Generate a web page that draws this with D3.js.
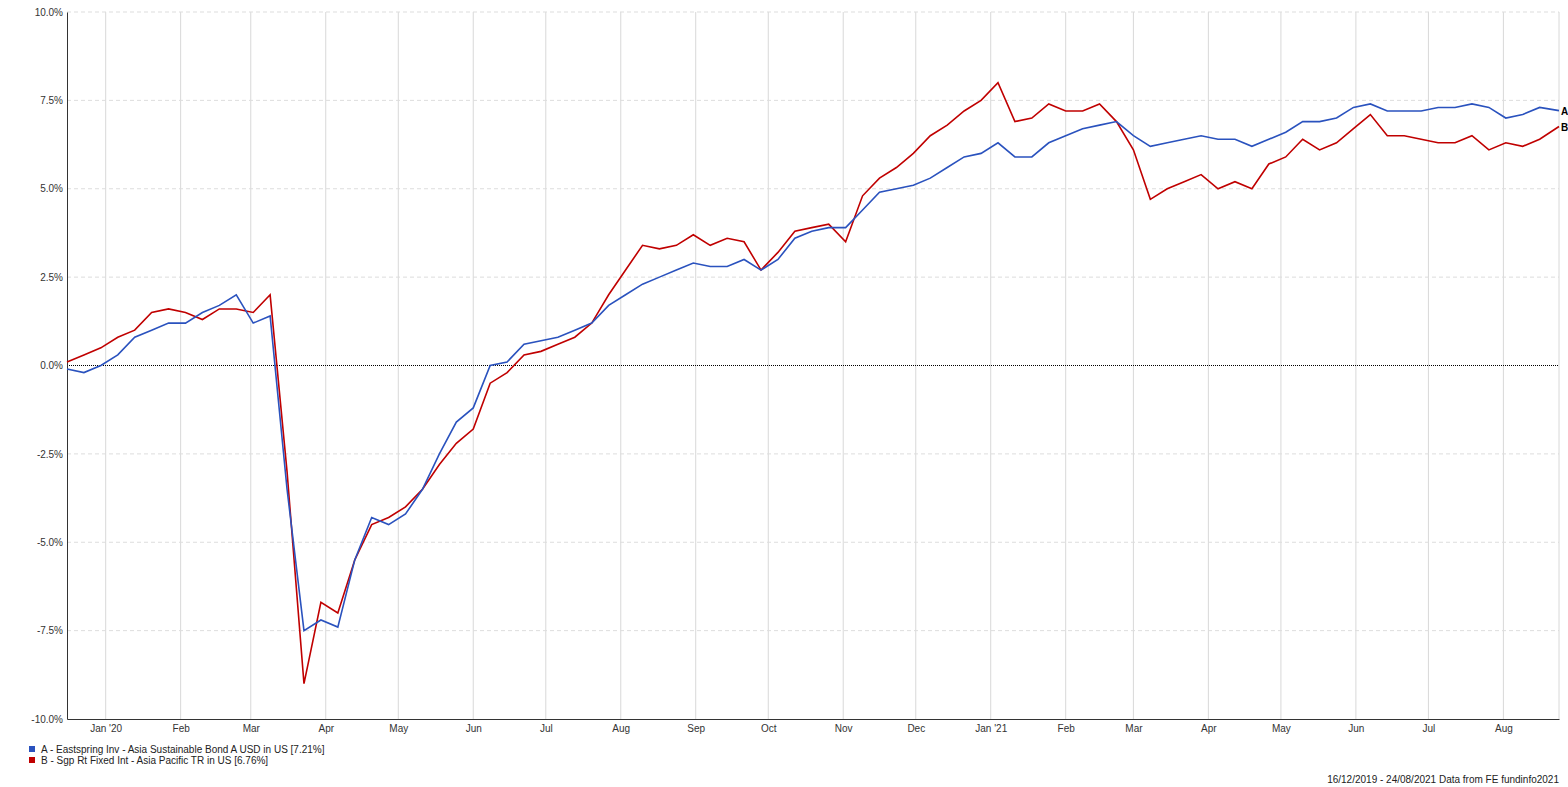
<!DOCTYPE html>
<html><head><meta charset="utf-8">
<script src="https://cdn.jsdelivr.net/npm/d3@7/dist/d3.min.js"></script>
<style>body{margin:0;background:#fff}text{font-family:"Liberation Sans",Arial,sans-serif}</style>
</head><body><svg id="c" width="1568" height="787"></svg>
<script>
const startDate = "2019-12-16";
const endDate = "2021-08-24";
const seriesA = [-0.1,-0.2,0.0,0.3,0.8,1.0,1.2,1.2,1.5,1.7,2.0,1.2,1.4,-3.5,-7.5,-7.2,-7.4,-5.5,-4.3,-4.5,-4.2,-3.5,-2.5,-1.6,-1.2,0.0,0.1,0.6,0.7,0.8,1.0,1.2,1.7,2.0,2.3,2.5,2.7,2.9,2.8,2.8,3.0,2.7,3.0,3.6,3.8,3.9,3.9,4.4,4.9,5.0,5.1,5.3,5.6,5.9,6.0,6.3,5.9,5.9,6.3,6.5,6.7,6.8,6.9,6.5,6.2,6.3,6.4,6.5,6.4,6.4,6.2,6.4,6.6,6.9,6.9,7.0,7.3,7.4,7.2,7.2,7.2,7.3,7.3,7.4,7.3,7.0,7.1,7.3,7.21];
const seriesB = [0.1,0.3,0.5,0.8,1.0,1.5,1.6,1.5,1.3,1.6,1.6,1.5,2.0,-3.0,-9.0,-6.7,-7.0,-5.5,-4.5,-4.3,-4.0,-3.5,-2.8,-2.2,-1.8,-0.5,-0.2,0.3,0.4,0.6,0.8,1.2,2.0,2.7,3.4,3.3,3.4,3.7,3.4,3.6,3.5,2.7,3.2,3.8,3.9,4.0,3.5,4.8,5.3,5.6,6.0,6.5,6.8,7.2,7.5,8.0,6.9,7.0,7.4,7.2,7.2,7.4,6.9,6.1,4.7,5.0,5.2,5.4,5.0,5.2,5.0,5.7,5.9,6.4,6.1,6.3,6.7,7.1,6.5,6.5,6.4,6.3,6.3,6.5,6.1,6.3,6.2,6.4,6.76];
const yTicks = [-10,-7.5,-5,-2.5,0,2.5,5,7.5,10];
const legendLabels = ["A - Eastspring Inv - Asia Sustainable Bond A USD in US [7.21%]","B - Sgp Rt Fixed Int - Asia Pacific TR in US [6.76%]"];
const colors = ["#2a52be","#c00000"];

const svg = d3.select("#c");
const L=67,R=1559,T=12,B=719;
const parse = d3.timeParse("%Y-%m-%d");
const t0=parse(startDate), t1=parse(endDate);
const dates = seriesA.map((_,i)=> i===seriesA.length-1 ? t1 : d3.timeDay.offset(t0,7*i));
const x = d3.scaleTime().domain([t0,t1]).range([L,R]);
const y = d3.scaleLinear().domain([-10,10]).range([B,T]);

const months = d3.timeMonth.range(d3.timeMonth.ceil(t0), t1);
svg.append("g").selectAll("line").data(months).join("line")
  .attr("x1",d=>x(d)).attr("x2",d=>x(d)).attr("y1",T).attr("y2",B).attr("stroke","#d8d8d8");
svg.append("g").selectAll("line").data(yTicks.filter(v=>v!==0&&v!==-10)).join("line")
  .attr("x1",L).attr("x2",R).attr("y1",d=>y(d)).attr("y2",d=>y(d)).attr("stroke","#ddd").attr("stroke-dasharray","4,3");
svg.append("line").attr("x1",R).attr("x2",R).attr("y1",T).attr("y2",B).attr("stroke","#d8d8d8");
svg.append("line").attr("x1",L).attr("x2",R).attr("y1",y(0)).attr("y2",y(0)).attr("stroke","#000").attr("stroke-dasharray","1,1");

const yAxis = svg.append("g").attr("transform",`translate(${L},0)`).call(d3.axisLeft(y).tickValues(yTicks).tickSize(0).tickPadding(4).tickFormat(d=>d.toFixed(1)+"%"));
yAxis.select(".domain").attr("stroke","#333");
yAxis.selectAll("text").attr("font-size",10).attr("fill","#333");
const xAxis = svg.append("g").attr("transform",`translate(0,${B})`).call(d3.axisBottom(x).tickValues(months).tickSize(0).tickPadding(6)
  .tickFormat(d=>d.getMonth()===0 ? "Jan '"+d3.timeFormat("%y")(d) : d3.timeFormat("%b")(d)));
xAxis.select(".domain").attr("stroke","#333");
xAxis.selectAll("text").attr("font-size",10).attr("fill","#333");

const line = d3.line().x((d,i)=>x(dates[i])).y(d=>y(d)).curve(d3.curveLinear);
[seriesB,seriesA].forEach((s,j)=>{
  svg.append("path").datum(s).attr("d",line).attr("fill","none").attr("stroke",colors[1-j]).attr("stroke-width",1.6);
});
[["A",seriesA],["B",seriesB]].forEach(([n,s])=>{
  svg.append("text").attr("x",R+2).attr("y",y(s[s.length-1])+4).attr("font-size",10).attr("font-weight","bold").text(n);
});
legendLabels.forEach((t,i)=>{
  svg.append("rect").attr("x",29).attr("y",746+i*11).attr("width",6).attr("height",6).attr("fill",colors[i]);
  svg.append("text").attr("x",41).attr("y",753+i*11).attr("font-size",10).attr("fill","#222").text(t);
});
svg.append("text").attr("x",1559).attr("y",783).attr("text-anchor","end").attr("font-size",10).attr("fill","#222").text("16/12/2019 - 24/08/2021 Data from FE fundinfo2021");
</script></body></html>
